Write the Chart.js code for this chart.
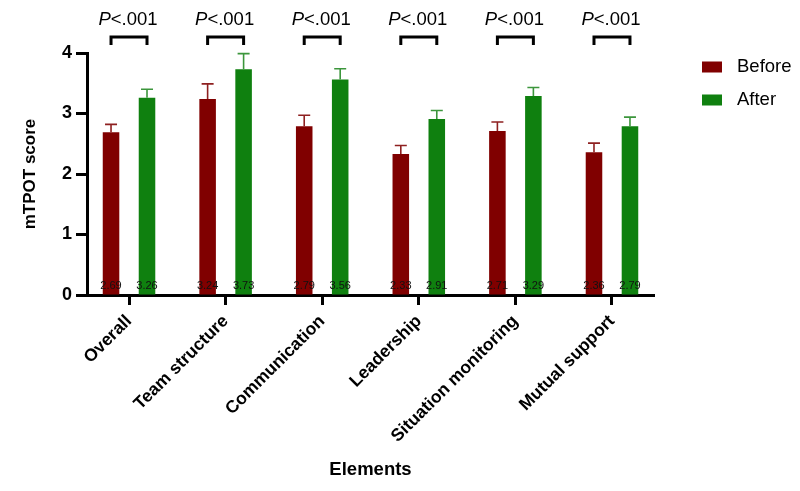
<!DOCTYPE html>
<html>
<head>
<meta charset="utf-8">
<script src="https://cdn.jsdelivr.net/npm/chart.js@4.4.1/dist/chart.umd.min.js"></script>
<style>
  html, body { margin: 0; padding: 0; background: #fff; }
  #wrap { width: 800px; height: 491px; }
</style>
</head>
<body>
<div id="wrap"><canvas id="scoreChart"></canvas></div>
<script>
// values
const categories = ['Overall', 'Team structure', 'Communication', 'Leadership', 'Situation monitoring', 'Mutual support'];
const beforeMeans = [2.69, 3.24, 2.79, 2.33, 2.71, 2.36];
const afterMeans = [3.26, 3.73, 3.56, 2.91, 3.29, 2.79];
const beforeErr = [0.13, 0.25, 0.18, 0.14, 0.15, 0.15];
const afterErr = [0.14, 0.26, 0.18, 0.14, 0.14, 0.15];
const pValues = ['<.001', '<.001', '<.001', '<.001', '<.001', '<.001'];
const yTicks = [0, 1, 2, 3, 4];

const FONT = "'Liberation Sans', Arial, Helvetica, sans-serif";
const colors = {before: '#800000', after: '#0f800f'};
const errColors = {before: '#8e2020', after: '#3c963c'};
const edgePad = 0.435; // gap at the axis ends, in category units (less than the usual half)

// error bars on top of each bar
const errorBars = {
  id: 'errorBars',
  afterDatasetsDraw(chart) {
    const ctx = chart.ctx;
    const y = chart.scales.y;
    chart.data.datasets.forEach((ds, di) => {
      const meta = chart.getDatasetMeta(di);
      meta.data.forEach((bar, i) => {
        const top = y.getPixelForValue(ds.data[i] + ds.errors[i]);
        ctx.save();
        ctx.strokeStyle = ds.errorColor;
        ctx.lineWidth = 1.6;
        ctx.beginPath();
        ctx.moveTo(bar.x, bar.y);
        ctx.lineTo(bar.x, top);
        ctx.moveTo(bar.x - 6, top);
        ctx.lineTo(bar.x + 6, top);
        ctx.stroke();
        ctx.restore();
      });
    });
  }
};

// small mean labels at the foot of each bar
const valueLabels = {
  id: 'valueLabels',
  afterDatasetsDraw(chart) {
    const ctx = chart.ctx;
    const base = chart.scales.y.getPixelForValue(0);
    ctx.save();
    ctx.font = '11px ' + FONT;
    ctx.fillStyle = '#111';
    ctx.textAlign = 'center';
    ctx.textBaseline = 'middle';
    chart.data.datasets.forEach((ds, di) => {
      chart.getDatasetMeta(di).data.forEach((bar, i) => {
        ctx.fillText(ds.data[i].toFixed(2), bar.x, base - 9);
      });
    });
    ctx.restore();
  }
};

// P value brackets above each pair
const pBrackets = {
  id: 'pBrackets',
  afterDraw(chart) {
    const ctx = chart.ctx;
    const top = chart.chartArea.top;
    const m0 = chart.getDatasetMeta(0).data;
    const m1 = chart.getDatasetMeta(1).data;
    ctx.save();
    m0.forEach((b0, i) => {
      const x1 = b0.x, x2 = m1[i].x;
      ctx.strokeStyle = '#000';
      ctx.lineWidth = 3;
      ctx.lineCap = 'butt';
      ctx.beginPath();
      ctx.moveTo(x1, top - 8);
      ctx.lineTo(x1, top - 16);
      ctx.lineTo(x2, top - 16);
      ctx.lineTo(x2, top - 8);
      ctx.stroke();

      const italic = 'italic 18.5px ' + FONT;
      const normal = '18.5px ' + FONT;
      ctx.font = italic;
      const wP = ctx.measureText('P').width;
      ctx.font = normal;
      const wRest = ctx.measureText(pValues[i]).width;
      const start = (x1 + x2) / 2 - (wP + wRest) / 2 - 1;
      ctx.fillStyle = '#000';
      ctx.textAlign = 'left';
      ctx.textBaseline = 'middle';
      ctx.font = italic;
      ctx.fillText('P', start, top - 33);
      ctx.font = normal;
      ctx.fillText(pValues[i], start + wP, top - 33);
    });
    ctx.restore();
  }
};

// legend on the right
const sideLegend = {
  id: 'sideLegend',
  afterDraw(chart) {
    const ctx = chart.ctx;
    const x = chart.chartArea.right + 48;
    ctx.save();
    ctx.font = '18.5px ' + FONT;
    ctx.textBaseline = 'middle';
    ctx.textAlign = 'left';
    chart.data.datasets.forEach((ds, i) => {
      const cy = chart.chartArea.top + 14 + i * 33;
      ctx.fillStyle = ds.backgroundColor;
      ctx.fillRect(x, cy - 5.5, 20, 11);
      ctx.fillStyle = '#000';
      ctx.fillText(ds.label, x + 35, cy);
    });
    ctx.restore();
  }
};

const ctx = document.getElementById('scoreChart');
new Chart(ctx, {
  type: 'bar',
  data: {
    labels: categories,
    datasets: [
      {label: 'Before', data: beforeMeans, errors: beforeErr, backgroundColor: colors.before, errorColor: errColors.before},
      {label: 'After', data: afterMeans, errors: afterErr, backgroundColor: colors.after, errorColor: errColors.after}
    ]
  },
  options: {
    responsive: true,
    maintainAspectRatio: false,
    animation: false,
    categoryPercentage: 0.745,
    barPercentage: 0.46,
    layout: {padding: {top: 53, right: 146, left: 0, bottom: 0}},
    plugins: {legend: {display: false}, tooltip: {enabled: false}},
    scales: {
      x: {
        offset: false,
        afterBuildTicks(scale) {
          // category scale keeps its value window here; widen it a bit at both ends
          scale._startValue = -edgePad;
          scale._valueRange = categories.length - 1 + 2 * edgePad;
        },
        grid: {offset: false, drawOnChartArea: false, tickLength: 10, tickWidth: 3, tickColor: '#000'},
        border: {width: 3, color: '#000'},
        ticks: {color: '#000', font: {family: FONT, size: 17.5, weight: 'bold'}, minRotation: 45, maxRotation: 45, padding: 6},
        title: {display: true, text: 'Elements', color: '#000', font: {family: FONT, size: 18.5, weight: 'bold'}, padding: {top: 4, bottom: 10}},
        afterFit(scale) { scale.height = 196; }
      },
      y: {
        min: 0,
        max: 4,
        afterBuildTicks(scale) { scale.ticks = yTicks.map(v => ({value: v})); },
        grid: {drawOnChartArea: false, tickLength: 11, tickWidth: 3, tickColor: '#000'},
        border: {width: 3, color: '#000'},
        ticks: {color: '#000', font: {family: FONT, size: 18, weight: 'bold'}, padding: 4},
        title: {display: true, text: 'mTPOT score', color: '#000', font: {family: FONT, size: 17, weight: 'bold'}, padding: {top: 20, bottom: 0}},
        afterFit(scale) { scale.width = 87; }
      }
    }
  },
  plugins: [errorBars, valueLabels, pBrackets, sideLegend]
});
</script>
</body>
</html>
